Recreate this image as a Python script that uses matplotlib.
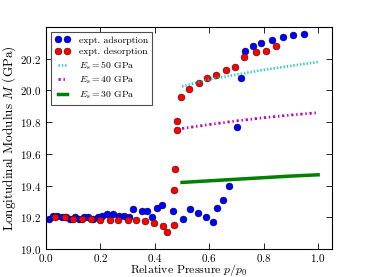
import numpy as np
import matplotlib
matplotlib.use("Agg")
from matplotlib import pyplot as plt

plt.rcParams['font.family'] = 'serif'
plt.rcParams['font.serif'] = ['cmr10', 'DejaVu Serif']
plt.rcParams['mathtext.fontset'] = 'cm'
plt.rcParams['axes.formatter.use_mathtext'] = True
plt.rcParams['xtick.direction'] = 'in'
plt.rcParams['ytick.direction'] = 'in'
plt.rcParams['xtick.top'] = True
plt.rcParams['ytick.right'] = True

# expt. adsorption
ads_p = [0.011, 0.026, 0.041, 0.057, 0.073, 0.088, 0.105, 0.122, 0.139, 0.156,
         0.173, 0.19, 0.207, 0.225, 0.245, 0.267, 0.286, 0.305, 0.32, 0.351,
         0.371, 0.391, 0.408, 0.428, 0.467, 0.502, 0.528, 0.56, 0.589, 0.615,
         0.627, 0.649, 0.674, 0.702, 0.718, 0.731, 0.762, 0.791, 0.83, 0.87,
         0.907, 0.949]
ads_M = [19.19, 19.21, 19.21, 19.20, 19.20, 19.19, 19.20, 19.19, 19.20, 19.20,
         19.19, 19.20, 19.21, 19.22, 19.22, 19.21, 19.21, 19.20, 19.25, 19.24,
         19.24, 19.20, 19.26, 19.28, 19.24, 19.19, 19.25, 19.23, 19.20, 19.17,
         19.26, 19.31, 19.40, 19.77, 20.08, 20.25, 20.28, 20.30, 20.32, 20.34,
         20.35, 20.355]

# expt. desorption
des_p = [0.033, 0.07, 0.10, 0.134, 0.166, 0.20, 0.234, 0.266, 0.30, 0.33,
         0.365, 0.397, 0.429, 0.444, 0.471, 0.471, 0.473, 0.48, 0.483, 0.496,
         0.524, 0.561, 0.59, 0.626, 0.66, 0.693, 0.726, 0.772, 0.809, 0.846]
des_M = [19.20, 19.20, 19.19, 19.19, 19.19, 19.18, 19.18, 19.18, 19.18, 19.18,
         19.175, 19.167, 19.146, 19.11, 19.15, 19.375, 19.506, 19.75, 19.81, 19.96,
         20.01, 20.05, 20.08, 20.10, 20.13, 20.15, 20.21, 20.24, 20.25, 20.28]

# model curves
model_p = [0.5, 0.6, 0.7, 0.8, 0.9, 1.0]
M_50 = [20.025, 20.07, 20.10, 20.13, 20.155, 20.18]
M_40 = [19.76, 19.785, 19.808, 19.828, 19.845, 19.86]
M_30 = [19.42, 19.43, 19.44, 19.45, 19.46, 19.468]

fig = plt.figure(figsize=(3.69, 2.77), dpi=100)
ax = fig.add_axes([0.1247, 0.101, 0.7743, 0.8015])

ax.plot(ads_p, ads_M, 'bo', ms=5, mec='k', mew=0.3, label='expt. adsorption')
ax.plot(des_p, des_M, 'ro', ms=5, mec='k', mew=0.3, label='expt. desorption')
ax.plot(model_p, M_50, color='c', lw=2, dashes=(0.5, 0.7), alpha=0.8,
        label=r'$E_{\rm s} = 50$ GPa')
ax.plot(model_p, M_40, color='m', lw=2, dashes=(0.8, 1.0, 0.5, 1.0),
        label=r'$E_{\rm s} = 40$ GPa')
ax.plot(model_p, M_30, 'g-', lw=2.5, label=r'$E_{\rm s} = 30$ GPa')

ax.set_xlim(0, 1.05)
ax.set_ylim(19.0, 20.4)
ax.set_xticks([0.0, 0.2, 0.4, 0.6, 0.8, 1.0])
ax.set_yticks([19.0, 19.2, 19.4, 19.6, 19.8, 20.0, 20.2])
ax.tick_params(labelsize=8, length=4, width=0.6)
ax.tick_params(axis='x', pad=2)
for s in ax.spines.values():
    s.set_linewidth(0.8)

ax.set_xlabel(r'Relative Pressure $p/p_0$', fontsize=8.5, labelpad=-1)
ax.set_ylabel(r'Longitudinal Modulus $M$ (GPa)', fontsize=9.5, labelpad=1)

leg = ax.legend(loc='upper left', numpoints=2, fontsize=7, fancybox=False,
                framealpha=1, borderpad=0.4, labelspacing=0.3,
                handlelength=1.6, handletextpad=0.9)
leg.get_frame().set_edgecolor('0.3')
leg.get_frame().set_linewidth(0.8)

plt.savefig('out.png', dpi=100)
